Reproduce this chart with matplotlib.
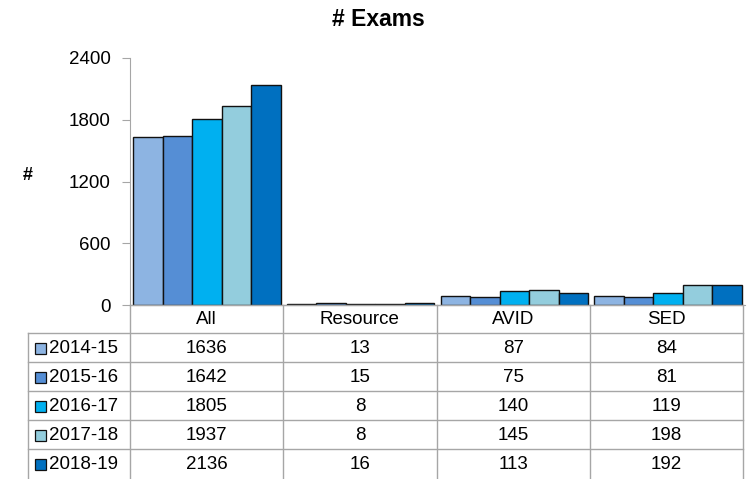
import numpy as np
import matplotlib.pyplot as plt

plt.rcParams['font.family'] = ['Liberation Sans', 'DejaVu Sans']

categories = ['All', 'Resource', 'AVID', 'SED']
years = ['2014-15', '2015-16', '2016-17', '2017-18', '2018-19']
exams = [
    [1636, 13, 87, 84],
    [1642, 15, 75, 81],
    [1805, 8, 140, 119],
    [1937, 8, 145, 198],
    [2136, 16, 113, 192],
]
colors = ['#8DB4E2', '#558ED5', '#00B0F0', '#93CDDD', '#0070C0']
yticks = [0, 600, 1200, 1800, 2400]

W, H = 747, 479
grid_col = '#A6A6A6'
fs = 13.5

fig = plt.figure(figsize=(W / 100, H / 100), dpi=100)

# chart area in pixels
left, right, top, bottom = 130, 745, 58, 305
ax = fig.add_axes([left / W, 1 - bottom / H, (right - left) / W, (bottom - top) / H])

x = np.arange(len(categories))
bw = 0.192
for i, yr in enumerate(years):
    ax.bar(x + (i - 2) * bw, exams[i], width=bw, color=colors[i],
           edgecolor='#111111', linewidth=1.0, zorder=3)

ax.set_xlim(-0.5, len(categories) - 0.5)
ax.set_ylim(0, 2400)
ax.set_yticks(yticks)
ax.set_xticks([])
for s in ['top', 'right']:
    ax.spines[s].set_visible(False)
ax.spines['left'].set_color(grid_col)
ax.spines['bottom'].set_color(grid_col)
ax.tick_params(axis='y', direction='out', length=6, color=grid_col,
               labelsize=fs, pad=8)
ax.set_ylabel('#', rotation=0, fontweight='bold', fontsize=13)
ax.yaxis.set_label_coords(-0.166, 0.49)

fig.text(378 / W, 1 - 20 / H, '# Exams', ha='center', va='center',
         fontweight='bold', fontsize=16.5)

# data table under the chart, drawn in pixel space
tax = fig.add_axes([0, 0, 1, 1])
tax.set_xlim(0, W)
tax.set_ylim(H, 0)
tax.axis('off')

lab_left = 28
col_w = (right - 2 - left) / len(categories)
col_edges = [left + k * col_w for k in range(len(categories) + 1)]
row_h = 29
head_bot = 333
row_edges = [head_bot + k * row_h for k in range(len(years) + 1)]
row_edges[-1] = H

lw = 1.0
# vertical lines
for xe in col_edges:
    tax.plot([xe, xe], [bottom, row_edges[-1]], color=grid_col, lw=lw)
tax.plot([lab_left, lab_left], [head_bot, row_edges[-1]], color=grid_col, lw=lw)
# horizontal lines (last row runs off the bottom edge)
tax.plot([left, col_edges[-1]], [bottom, bottom], color=grid_col, lw=lw)
for ye in row_edges[:-1]:
    tax.plot([lab_left, col_edges[-1]], [ye, ye], color=grid_col, lw=lw)

for j, cat in enumerate(categories):
    cx = (col_edges[j] + col_edges[j + 1]) / 2
    tax.text(cx, (bottom + head_bot) / 2 + 1, cat, ha='center', va='center',
             fontsize=fs)

for i, yr in enumerate(years):
    cy = head_bot + (i + 0.5) * row_h + 1
    tax.add_patch(plt.Rectangle((35, cy - 5.5), 11, 11, facecolor=colors[i],
                                edgecolor='#111111', lw=0.9))
    tax.text(49, cy, yr, ha='left', va='center', fontsize=fs)
    for j in range(len(categories)):
        cx = (col_edges[j] + col_edges[j + 1]) / 2
        tax.text(cx, cy, str(exams[i][j]), ha='center', va='center',
                 fontsize=fs)

fig.savefig('out.png', dpi=100)
